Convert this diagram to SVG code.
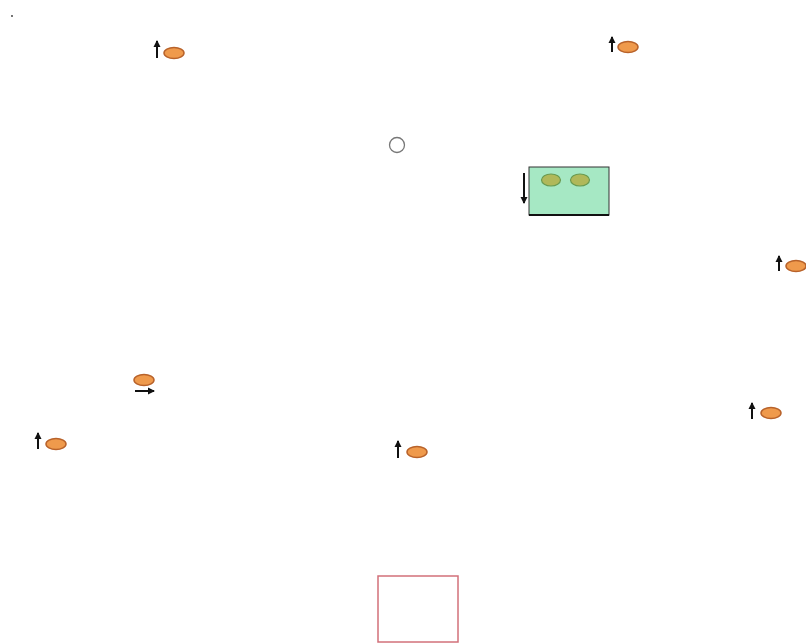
<svg xmlns="http://www.w3.org/2000/svg" width="806" height="644" viewBox="0 0 806 644">
<defs>
<style>
.ell{fill:#ef9a4c;stroke:#b8622a;stroke-width:1.5}
.arr{stroke:#111;stroke-width:2;fill:none}
.head{fill:#111}
.inner{fill:#b0b85a;stroke:#6a9a50;stroke-width:1.2}
</style>
<marker id="ah" markerWidth="8" markerHeight="8" refX="6" refY="4" orient="auto" markerUnits="userSpaceOnUse">
<path d="M0,0.5 L7,4 L0,7.5 Z" class="head"/>
</marker>
</defs>
<rect width="806" height="644" fill="#ffffff"/>
<circle cx="12" cy="16" r="0.9" fill="#333"/>
<g id="connectors">
<line class="arr" x1="157" y1="58" x2="157" y2="41" marker-end="url(#ah)"/>
<line class="arr" x1="612" y1="52" x2="612" y2="37" marker-end="url(#ah)"/>
<line class="arr" x1="524" y1="173" x2="524" y2="203" marker-end="url(#ah)"/>
<line class="arr" x1="779" y1="271" x2="779" y2="256" marker-end="url(#ah)"/>
<line class="arr" x1="135" y1="391" x2="154" y2="391" marker-end="url(#ah)"/>
<line class="arr" x1="38" y1="449" x2="38" y2="433" marker-end="url(#ah)"/>
<line class="arr" x1="398" y1="458" x2="398" y2="441" marker-end="url(#ah)"/>
<line class="arr" x1="752" y1="419" x2="752" y2="403" marker-end="url(#ah)"/>
</g>
<g id="node1"><ellipse class="ell" cx="174" cy="53" rx="10" ry="5.5"/></g>
<g id="node2"><ellipse class="ell" cx="628" cy="47" rx="10" ry="5.5"/></g>
<g id="node3"><circle cx="397" cy="145" r="7.5" fill="#fff" stroke="#777" stroke-width="1.3"/></g>
<g id="node4">
<rect x="529" y="167" width="80" height="48" fill="#a6e8c4" stroke="#333" stroke-width="1"/>
<line x1="529" y1="215" x2="609" y2="215" stroke="#111" stroke-width="2"/>
<ellipse class="inner" cx="551" cy="180" rx="9.5" ry="6"/>
<ellipse class="inner" cx="580" cy="180" rx="9.5" ry="6"/>
</g>
<g id="node5"><ellipse class="ell" cx="796" cy="266" rx="10" ry="5.5"/></g>
<g id="node6"><ellipse class="ell" cx="144" cy="380" rx="10" ry="5.5"/></g>
<g id="node7"><ellipse class="ell" cx="56" cy="444" rx="10" ry="5.5"/></g>
<g id="node8"><ellipse class="ell" cx="417" cy="452" rx="10" ry="5.5"/></g>
<g id="node9"><ellipse class="ell" cx="771" cy="413" rx="10" ry="5.5"/></g>
<g id="node10"><rect x="378" y="576" width="80" height="66" fill="#fff" stroke="#d2707a" stroke-width="1.5"/></g>
</svg>
